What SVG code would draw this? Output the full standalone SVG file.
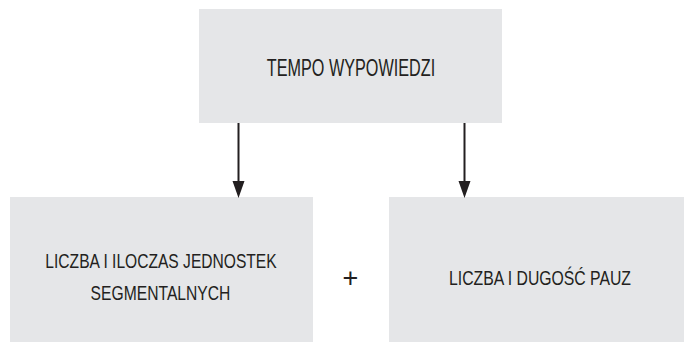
<svg xmlns="http://www.w3.org/2000/svg" width="684" height="342" viewBox="0 0 684 342">
  <style>
    .box { fill: #e5e6e8; }
    .lbl { font-family: "Liberation Sans", Arial, sans-serif; fill: #231f20; text-anchor: middle; }
    .conn { stroke: #231f20; stroke-width: 2; fill: none; }
    .head { fill: #231f20; }
  </style>
  <rect width="684" height="342" fill="#ffffff"/>
  <g id="node-tempo">
    <rect class="box" x="199" y="9" width="303" height="114"/>
    <text class="lbl" transform="translate(351,76) scale(0.69,1)" x="0" y="0" font-size="23.5">TEMPO WYPOWIEDZI</text>
  </g>
  <g id="node-jednostki">
    <rect class="box" x="10" y="197" width="303" height="145"/>
    <text class="lbl" transform="translate(161,268) scale(0.743,1)" x="0" y="0" font-size="21">LICZBA I ILOCZAS JEDNOSTEK</text>
    <text class="lbl" transform="translate(160.5,300) scale(0.746,1)" x="0" y="0" font-size="21">SEGMENTALNYCH</text>
  </g>
  <g id="node-pauzy">
    <rect class="box" x="389" y="197" width="295" height="145"/>
    <text class="lbl" transform="translate(540,285) scale(0.751,1)" x="0" y="0" font-size="21">LICZBA I DUGOŚĆ PAUZ</text>
  </g>
  <g id="plus">
    <text class="lbl" x="350.5" y="287" font-size="27" font-weight="normal">+</text>
  </g>
  <g id="connectors">
    <line class="conn" x1="238.5" y1="123" x2="238.5" y2="182"/>
    <path class="head" d="M232.5,181 L244.5,181 L238.5,198 Z"/>
    <line class="conn" x1="464.5" y1="123" x2="464.5" y2="182"/>
    <path class="head" d="M458.5,181 L470.5,181 L464.5,198 Z"/>
  </g>
</svg>
